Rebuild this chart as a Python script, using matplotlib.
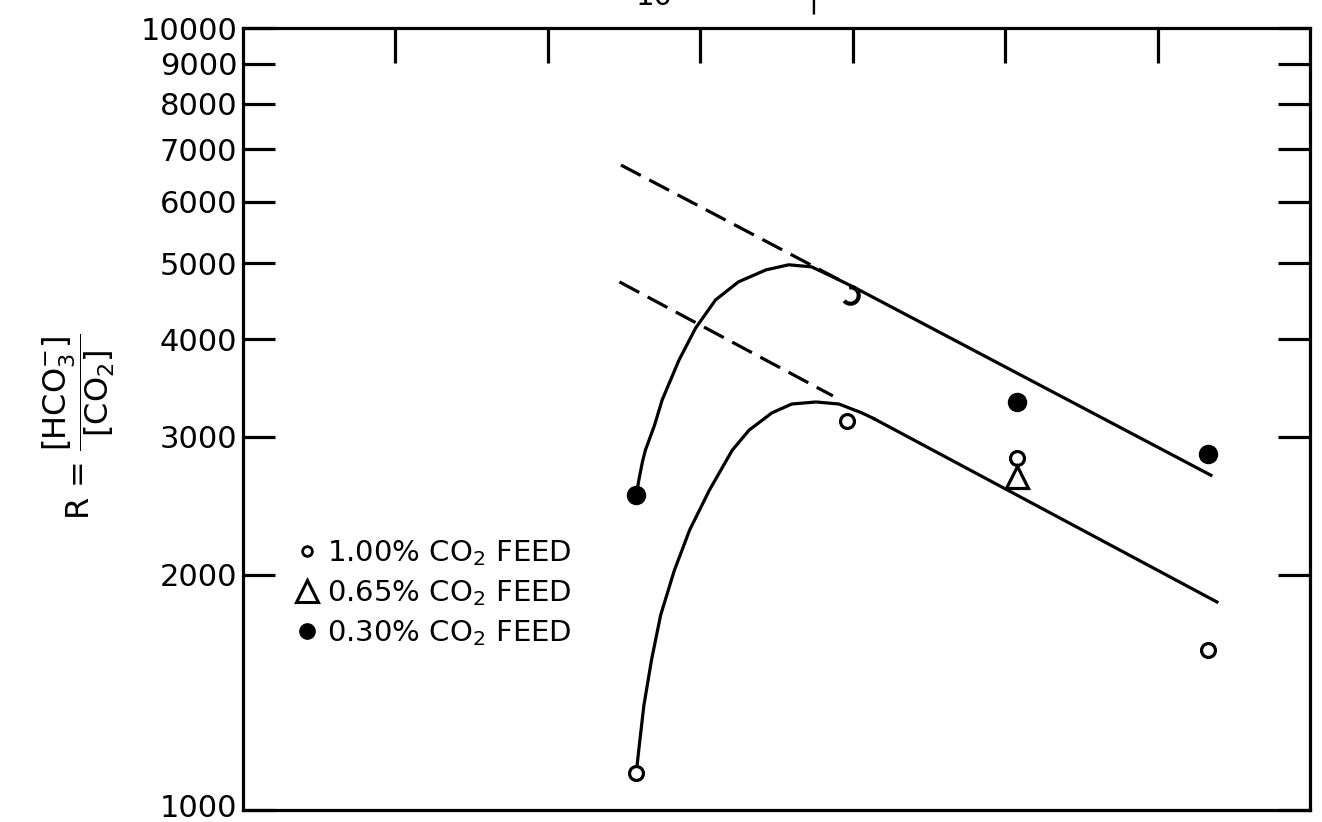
import numpy as np
import matplotlib
matplotlib.use('Agg')
import matplotlib.pyplot as plt
import matplotlib.transforms as mtransforms
from matplotlib.path import Path
from matplotlib.lines import Line2D

plt.rcParams['font.family'] = ['DejaVu Sans']
plt.rcParams['mathtext.default'] = 'regular'

# measured ratios R = [HCO3-]/[CO2] for each CO2 feed concentration
x_100 = [2.58, 3.96, 5.08, 6.33]
r_100 = [1115, 3140, 2820, 1600]
x_065 = [5.08]
r_065 = [2665]
x_030 = [2.58, 3.98, 5.08, 6.33]
r_030 = [2530, 4560, 3325, 2855]

# hand-fitted curves through the low-x points
upper_curve_x = [2.58, 2.60, 2.62, 2.64, 2.70, 2.75, 2.86, 2.97, 3.10, 3.25, 3.43, 3.58, 3.73, 3.87, 4.01]
upper_curve_r = [2530, 2660, 2785, 2885, 3105, 3345, 3760, 4135, 4490, 4735, 4905, 4980, 4950, 4805, 4660]
lower_curve_x = [2.58, 2.60, 2.63, 2.68, 2.74, 2.83, 2.93, 3.06, 3.21, 3.32, 3.47, 3.60, 3.76, 3.91, 4.06, 4.14]
lower_curve_r = [1115, 1210, 1360, 1555, 1775, 2025, 2280, 2565, 2885, 3060, 3220, 3305, 3325, 3305, 3220, 3165]

# straight-line fits, dashed where extrapolated
upper_dash_x = [2.48, 3.96]
upper_dash_r = [6680, 4710]
upper_line_x = [4.01, 6.35]
upper_line_r = [4660, 2680]
lower_dash_x = [2.47, 3.87]
lower_dash_r = [4735, 3385]
lower_line_x = [4.14, 6.39]
lower_line_r = [3165, 1845]

yticks = [1000, 2000, 3000, 4000, 5000, 6000, 7000, 8000, 9000, 10000]
legend_labels = [r'1.00% CO$_2$ FEED', r'0.65% CO$_2$ FEED', r'0.30% CO$_2$ FEED']

fig = plt.figure(figsize=(13.22, 8.22), dpi=100)
ax = fig.add_axes([0.1838, 0.0146, 0.8071, 0.9513])

lw = 2.3
ax.plot(upper_curve_x, upper_curve_r, color='k', lw=lw)
ax.plot(lower_curve_x, lower_curve_r, color='k', lw=lw)
ax.plot(upper_line_x, upper_line_r, color='k', lw=lw)
ax.plot(lower_line_x, lower_line_r, color='k', lw=lw)
ax.plot(upper_dash_x, upper_dash_r, color='k', lw=lw, ls=(0, (7, 3)))
ax.plot(lower_dash_x, lower_dash_r, color='k', lw=lw, ls=(0, (7, 3)))

ax.plot(x_100, r_100, ls='none', marker='o', ms=10, mfc='white', mec='k', mew=2.3, zorder=5)
ax.plot(x_065, r_065, ls='none', marker='^', ms=16, mfc='none', mec='k', mew=2.3, zorder=5)

# the 0.30% point at x~4 is only partly inked, drawn as an open arc
x_030 = np.array(x_030)
r_030 = np.array(r_030)
solid = np.array([True, False, True, True])
ax.plot(x_030[solid], r_030[solid], ls='none', marker='o', ms=13, mfc='k', mec='k', zorder=5)
arc = Path.arc(-140, 100)
ax.plot(x_030[~solid], r_030[~solid], ls='none', marker=arc, ms=12, mfc='none', mec='k', mew=3, zorder=5)

ax.set_yscale('log')
ax.set_ylim(1000, 10000)
ax.set_xlim(0, 7)
ax.set_yticks(yticks)
ax.set_yticklabels([str(v) for v in yticks])
ax.yaxis.set_minor_locator(matplotlib.ticker.NullLocator())
ax.set_xticks([1, 2, 3, 4, 5, 6])

ax.tick_params(axis='y', which='major', direction='in', length=23, width=lw,
               left=True, right=True, labelsize=22, pad=4)
ax.tick_params(axis='x', which='major', direction='in', length=25, width=lw,
               top=True, bottom=False, labelbottom=False, labeltop=False)
for sp in ax.spines.values():
    sp.set_linewidth(lw)

# lift the bottom label a little so it stays inside the figure
bottom_label = ax.get_yticklabels()[0]
bottom_label.set_transform(bottom_label.get_transform() +
                           mtransforms.ScaledTranslation(0, 4 / 100, fig.dpi_scale_trans))

ax.set_ylabel(r'R = $\dfrac{[HCO_3^{-}]}{[CO_2]}$', fontsize=23)
ax.yaxis.set_label_coords(-0.118, 0.49)

handles = [
    Line2D([], [], ls='none', marker='o', ms=7, mfc='white', mec='k', mew=2),
    Line2D([], [], ls='none', marker='^', ms=16, mfc='none', mec='k', mew=2.2),
    Line2D([], [], ls='none', marker='o', ms=11, mfc='k', mec='k'),
]
ax.legend(handles, legend_labels, loc='upper left', bbox_to_anchor=(0.049, 0.347),
          frameon=False, fontsize=21, handlelength=0.8, handletextpad=0.3,
          labelspacing=0.34, borderpad=0, borderaxespad=0)

# fragments of the upper axis title running off the top edge
fig.text(654 / 1322, 1 - 5 / 822, '10', fontsize=21, ha='center', va='baseline')
fig.text(813 / 1322, 1 - 14 / 822, '|', fontsize=21, ha='center', va='bottom')

fig.savefig('out.png', dpi=100)
